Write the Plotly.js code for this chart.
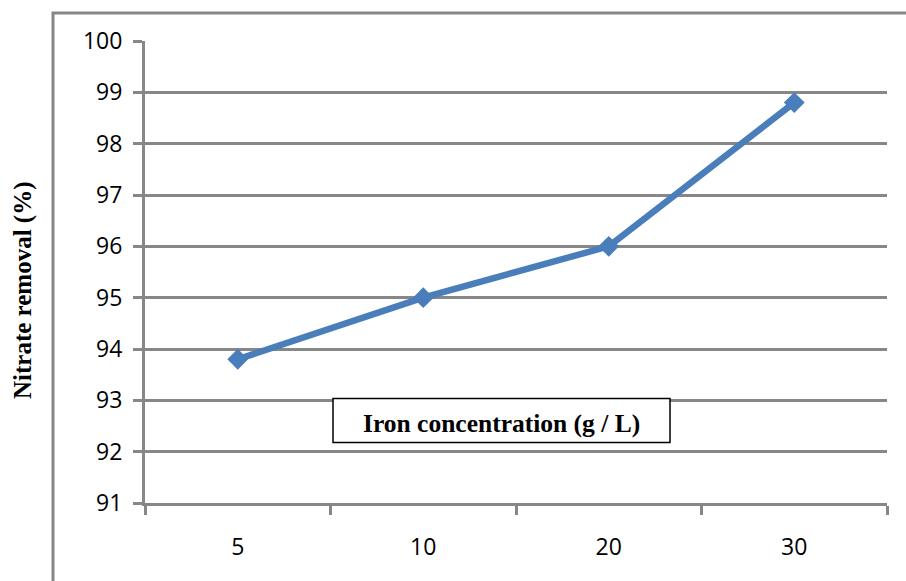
<!DOCTYPE html>
<html>
<head>
<meta charset="utf-8">
<script src="https://cdn.plot.ly/plotly-3.0.1.min.js"></script>
<style>html,body{margin:0;padding:0;background:#fff;}#chart{width:906px;height:581px;}</style>
</head>
<body>
<div id="chart"></div>
<script>
const categories = ["5", "10", "20", "30"];
const nitrateRemoval = [93.8, 95, 96, 98.8];
const yTicks = [91, 92, 93, 94, 95, 96, 97, 98, 99, 100];
const xTitleText = "Iron concentration (g / L)";
const yTitleText = "Nitrate removal (%)";

const trace = {
  x: categories,
  y: nitrateRemoval,
  type: "scatter",
  mode: "lines+markers",
  line: {color: "#4A7EBB", width: 6.5},
  marker: {symbol: "diamond", size: 16, color: "#4A7EBB"},
  cliponaxis: false,
  hoverinfo: "skip"
};

const gray = "#878787";
const layout = {
  width: 906, height: 581,
  margin: {l: 145, r: 19, t: 41, b: 78},
  paper_bgcolor: "#fff", plot_bgcolor: "#fff",
  showlegend: false,
  font: {family: "Open Sans, sans-serif", color: "#000"},
  xaxis: {
    type: "category",
    range: [-0.5, 3.5],
    tickson: "boundaries",
    ticks: "outside", ticklen: 9, tickwidth: 3, tickcolor: gray,
    showline: true, linecolor: gray, linewidth: 3,
    showgrid: false, zeroline: false,
    tickfont: {family: "Open Sans, sans-serif", size: 23, color: "#000"},
    ticklabelstandoff: 21
  },
  yaxis: {
    range: [91, 100],
    tickmode: "array", tickvals: yTicks, ticktext: yTicks.map(String),
    ticks: "outside", ticklen: 9, tickwidth: 3, tickcolor: gray,
    showline: true, linecolor: gray, linewidth: 3,
    showgrid: true, gridcolor: gray, gridwidth: 3,
    zeroline: false,
    tickfont: {family: "Open Sans, sans-serif", size: 23, color: "#000"},
    ticklabelstandoff: 6
  },
  shapes: [
    {type: "rect", xref: "paper", yref: "paper",
     x0: (53 - 145) / 742, x1: 1.2, y0: -0.4, y1: (503 - 13) / 462,
     line: {color: gray, width: 3}, fillcolor: "rgba(0,0,0,0)", layer: "below"},
    {type: "rect", xref: "paper", yref: "paper",
     x0: (333 - 145) / 742, x1: (670 - 145) / 742,
     y0: (503 - 442.5) / 462, y1: (503 - 398.5) / 462,
     line: {color: "#000", width: 1.5}, fillcolor: "#fff", layer: "above"}
  ],
  annotations: [
    {xref: "paper", yref: "paper", x: (501.5 - 145) / 742, y: (503 - 423) / 462,
     text: "<b>" + xTitleText + "</b>", showarrow: false,
     font: {family: "Liberation Serif, Times New Roman, serif", size: 25.5, color: "#000"},
     xanchor: "center", yanchor: "middle"},
    {xref: "paper", yref: "paper", x: (23 - 145) / 742, y: (503 - 290) / 462,
     text: "<b>" + yTitleText + "</b>", showarrow: false, textangle: -90,
     font: {family: "Liberation Serif, Times New Roman, serif", size: 25, color: "#000"},
     xanchor: "center", yanchor: "middle"}
  ]
};

Plotly.newPlot("chart", [trace], layout, {displayModeBar: false, staticPlot: true});
</script>
</body>
</html>
